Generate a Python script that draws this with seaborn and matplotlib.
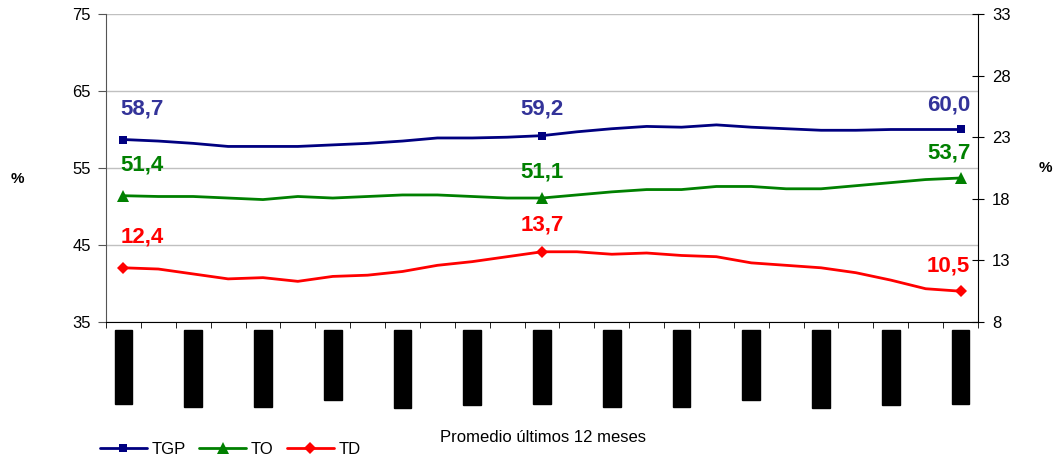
import numpy as np
import pandas as pd
import seaborn as sns
import matplotlib.pyplot as plt
from matplotlib.lines import Line2D

# periodos (promedio movil 12 meses)
periodos = ['Ene07-Dic07', 'Feb07-Ene08', 'Mar07-Feb08', 'Abr07-Mar08', 'May07-Abr08',
            'Jun07-May08', 'Jul07-Jun08', 'Ago07-Jul08', 'Sep07-Ago08', 'Oct07-Sep08',
            'Nov07-Oct08', 'Dic07-Nov08', 'Ene08-Dic08', 'Feb08-Ene09', 'Mar08-Feb09',
            'Abr08-Mar09', 'May08-Abr09', 'Jun08-May09', 'Jul08-Jun09', 'Ago08-Jul09',
            'Sep08-Ago09', 'Oct08-Sep09', 'Nov08-Oct09', 'Dic08-Nov09', 'Ene09-Dic09']
tgp = [58.7, 58.5, 58.2, 57.8, 57.8, 57.8, 58.0, 58.2, 58.5, 58.9, 58.9, 59.0, 59.2,
       59.7, 60.1, 60.4, 60.3, 60.6, 60.3, 60.1, 59.9, 59.9, 60.0, 60.0, 60.0]
to = [51.4, 51.3, 51.3, 51.1, 50.9, 51.3, 51.1, 51.3, 51.5, 51.5, 51.3, 51.1, 51.1,
      51.5, 51.9, 52.2, 52.2, 52.6, 52.6, 52.3, 52.3, 52.7, 53.1, 53.5, 53.7]
td = [12.4, 12.3, 11.9, 11.5, 11.6, 11.3, 11.7, 11.8, 12.1, 12.6, 12.9, 13.3, 13.7,
      13.7, 13.5, 13.6, 13.4, 13.3, 12.8, 12.6, 12.4, 12.0, 11.4, 10.7, 10.5]
puntos = [0, 12, 24]

sns.set_style('white')
plt.rcParams['font.family'] = ['Liberation Sans', 'DejaVu Sans']
plt.rcParams['text.color'] = 'black'
plt.rcParams['xtick.color'] = 'black'
plt.rcParams['ytick.color'] = 'black'

df = pd.DataFrame({'pos': range(len(periodos)), 'periodo': periodos,
                   'TGP': tgp, 'TO': to, 'TD': td})

fig = plt.figure(figsize=(10.59, 4.61), dpi=100)
ax = fig.add_axes([106 / 1059, 1 - 322 / 461, 872 / 1059, 308 / 461])
ax2 = ax.twinx()

c_tgp, c_to, c_td = '#000080', '#008000', '#ff0000'
sns.lineplot(data=df, x='pos', y='TGP', ax=ax, color=c_tgp, lw=2, marker='s', markersize=6,
             markevery=puntos, markeredgecolor=c_tgp, markeredgewidth=0)
sns.lineplot(data=df, x='pos', y='TO', ax=ax, color=c_to, lw=2, marker='^', markersize=8,
             markevery=puntos, markeredgecolor=c_to, markeredgewidth=0)
sns.lineplot(data=df, x='pos', y='TD', ax=ax2, color=c_td, lw=2, marker='D', markersize=6,
             markevery=puntos, markeredgecolor=c_td, markeredgewidth=0)

ax.set_xlim(-0.5, len(periodos) - 0.5)
ax.set_ylim(35, 75)
ax2.set_ylim(8, 33)
ax.set_yticks([35, 45, 55, 65, 75])
ax2.set_yticks([8, 13, 18, 23, 28, 33])
ax.set_xlabel('')
ax.set_ylabel('')
ax2.set_ylabel('')

ax.set_xticks(range(0, len(periodos), 2))
ax.set_xticklabels(periodos[::2], rotation=90, fontsize=8.5, va='top', color='black')
ax.set_xticks(np.arange(-0.5, len(periodos), 1), minor=True)
ax.tick_params(axis='x', which='major', length=0, pad=8)
ax.tick_params(axis='x', which='minor', length=4, direction='out', color='black', bottom=True)
for lbl in ax.get_xticklabels():
    lbl.set_bbox(dict(facecolor='black', edgecolor='black', pad=2))

ax.tick_params(axis='y', which='major', length=6, direction='out', color='#555555',
               labelsize=12, labelcolor='black', pad=5, left=True)
ax2.tick_params(axis='y', which='major', length=8, direction='inout', color='black',
                labelsize=12, labelcolor='black', pad=6, right=True)

ax.yaxis.grid(True, color='#c0c0c0', lw=1)
ax.set_axisbelow(True)
for s in ['top', 'right']:
    ax.spines[s].set_visible(False)
ax.spines['left'].set_color('#555555')
ax.spines['bottom'].set_color('black')
for s in ['top', 'left', 'bottom']:
    ax2.spines[s].set_visible(False)
ax2.spines['right'].set_color('black')


def fmt(v):
    return f'{v:.1f}'.replace('.', ',')


def etiquetas(eje, valores, color):
    ajustes = [('left', -2, 22), ('center', 0, 19), ('right', 7, 18)]
    for i, (ha, dx, dy) in zip(puntos, ajustes):
        eje.annotate(fmt(valores[i]), (i, valores[i]), xytext=(dx, dy),
                     textcoords='offset points', ha=ha, va='center',
                     color=color, fontsize=16, fontweight='bold')


etiquetas(ax, tgp, '#333399')
etiquetas(ax, to, c_to)
etiquetas(ax2, td, c_td)

fig.text(17 / 1059, 1 - 179 / 461, '%', ha='center', va='center', fontsize=11, fontweight='bold')
fig.text(1045 / 1059, 1 - 168 / 461, '%', ha='center', va='center', fontsize=11, fontweight='bold')
fig.text(543 / 1059, 1 - 437 / 461, 'Promedio últimos 12 meses', ha='center', va='center', fontsize=12)

handles = [Line2D([], [], color=c_tgp, lw=2, marker='s', markersize=6, markeredgewidth=0),
           Line2D([], [], color=c_to, lw=2, marker='^', markersize=8, markeredgewidth=0),
           Line2D([], [], color=c_td, lw=2, marker='D', markersize=6, markeredgewidth=0)]
fig.legend(handles, ['TGP', 'TO', 'TD'], loc='center left', bbox_to_anchor=(100 / 1059, 1 - 449 / 461),
           ncol=3, frameon=False, fontsize=12, handlelength=2.8, handletextpad=0.3,
           columnspacing=0.8, borderpad=0, borderaxespad=0)

fig.savefig('out.png', dpi=100)
